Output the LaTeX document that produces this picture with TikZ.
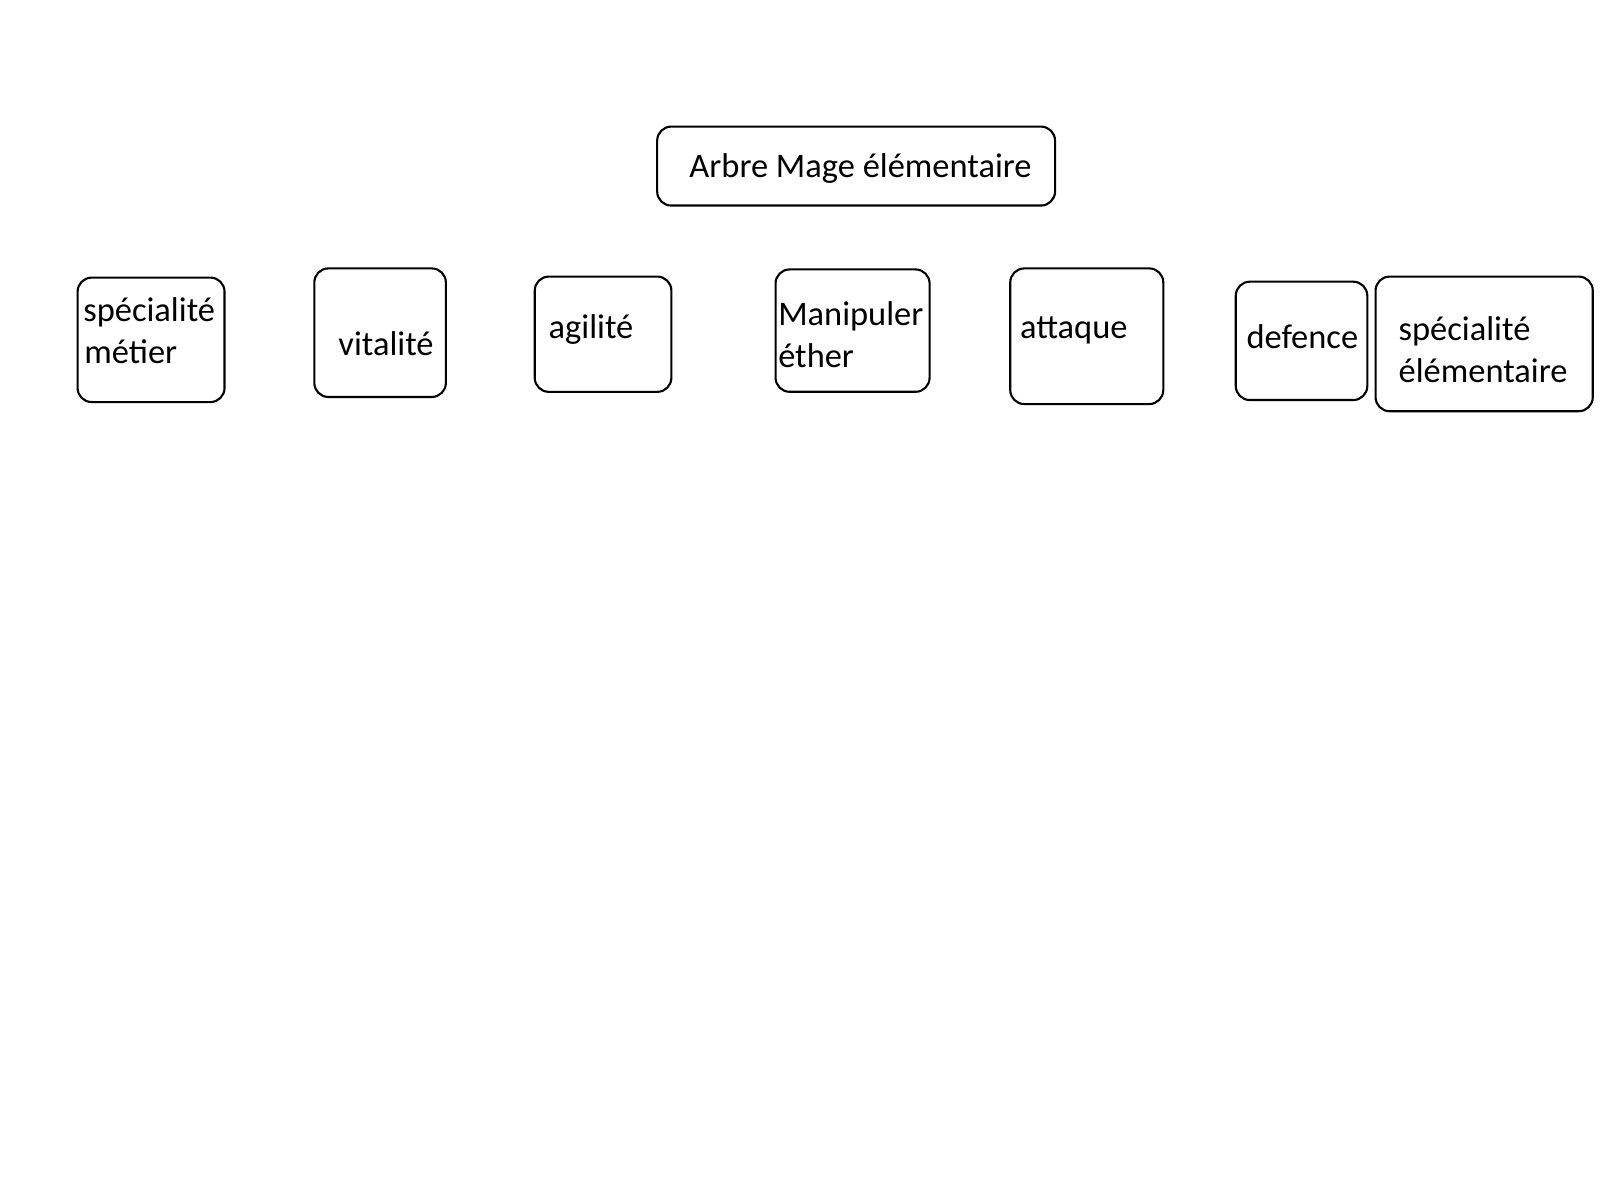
\documentclass[tikz,border=0pt]{standalone}
\usepackage{fontspec}
\setmainfont{Carlito}
\tikzstyle{skill-box}=[draw, rounded corners=4pt, line width=0.6pt, anchor=north west, inner sep=0pt]
\tikzstyle{skill-text}=[anchor=base west, inner sep=0pt, font=\fontsize{9.8}{11.9}\selectfont]

\begin{document}
\begin{tikzpicture}[x=0.0102041cm, y=-0.0102041cm]
      \useasboundingbox (0,0) rectangle (1568,1176);

      \node (box:arbre) at (643,123)
            [skill-box, minimum width=3.98cm, minimum height=0.79cm] {};
      \node (txt:arbre) at (675,174) [skill-text] {Arbre Mage élémentaire};

      \node (box:metier) at (75,271)
            [skill-box, minimum width=1.47cm, minimum height=1.245cm] {};
      \node (txt:metier1) at (81,315) [skill-text] {spécialité};
      \node (txt:metier2) at (82,356) [skill-text] {métier};

      \node (box:vitalite) at (307,262)
            [skill-box, minimum width=1.316cm, minimum height=1.286cm] {};
      \node (txt:vitalite) at (331,348) [skill-text] {vitalité};

      \node (box:agilite) at (523,270)
            [skill-box, minimum width=1.367cm, minimum height=1.153cm] {};
      \node (txt:agilite) at (537,332) [skill-text] {agilité};

      \node (box:ether) at (759,263)
            [skill-box, minimum width=1.541cm, minimum height=1.224cm] {};
      \node (txt:ether1) at (762,319) [skill-text] {Manipuler};
      \node (txt:ether2) at (762,360) [skill-text] {éther};

      \node (box:attaque) at (989,262)
            [skill-box, minimum width=1.531cm, minimum height=1.357cm] {};
      \node (txt:attaque) at (999,332) [skill-text] {attaque};

      \node (box:defence) at (1210,275)
            [skill-box, minimum width=1.316cm, minimum height=1.184cm] {};
      \node (txt:defence) at (1221,342) [skill-text] {defence};

      \node (box:elem) at (1347,270)
            [skill-box, minimum width=2.173cm, minimum height=1.347cm] {};
      \node (txt:elem1) at (1370,334) [skill-text] {spécialité};
      \node (txt:elem2) at (1370,375) [skill-text] {élémentaire};
\end{tikzpicture}
\end{document}
